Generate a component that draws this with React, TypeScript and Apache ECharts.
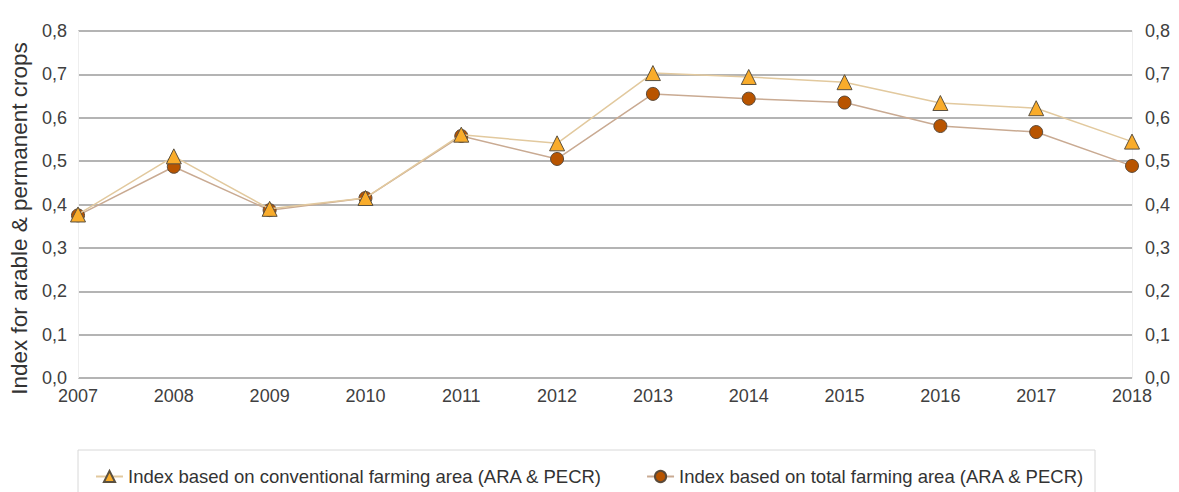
import React, { useEffect, useRef } from "react";
import * as echarts from "echarts";

const years = ["2007", "2008", "2009", "2010", "2011", "2012", "2013", "2014", "2015", "2016", "2017", "2018"];
const conventional = [0.377, 0.511, 0.39, 0.415, 0.561, 0.541, 0.703, 0.694, 0.682, 0.634, 0.622, 0.545];
const total = [0.375, 0.487, 0.387, 0.415, 0.558, 0.505, 0.655, 0.644, 0.635, 0.581, 0.567, 0.489];
const nameConv = "Index based on conventional farming area (ARA & PECR)";
const nameTotal = "Index based on total farming area (ARA & PECR)";
const axisName = "Index for arable & permanent crops";

const fmt = (v: number) => v.toFixed(1).replace(".", ",");

export default function App() {
  const ref = useRef<HTMLDivElement>(null);
  useEffect(() => {
    document.body.style.margin = "0";
    const chart = echarts.init(ref.current!, null, { renderer: "svg" });
    const font = "'Liberation Sans', Arial, sans-serif";
    const labelStyle = { color: "#404040", fontSize: 18, fontFamily: font };
    chart.setOption({
      animation: false,
      textStyle: { fontFamily: font },
      grid: { left: 78, right: 47, top: 31, bottom: 114, containLabel: false },
      xAxis: {
        type: "category",
        data: years,
        boundaryGap: false,
        axisLine: { show: false },
        axisTick: { show: false },
        axisLabel: { ...labelStyle, margin: 9 },
      },
      yAxis: [
        {
          type: "value",
          min: 0,
          max: 0.8,
          interval: 0.1,
          position: "left",
          name: axisName,
          nameLocation: "middle",
          nameGap: 47,
          nameTextStyle: { fontSize: 22.5, color: "#333", fontFamily: font, padding: [0, 0, 0, -28] },
          axisLine: { show: true, lineStyle: { color: "#eeeeee", width: 1 } },
          axisTick: { show: false },
          axisLabel: { ...labelStyle, margin: 11, formatter: fmt },
          splitLine: { lineStyle: { color: "#b4b4b4", width: 2 } },
        },
        {
          type: "value",
          min: 0,
          max: 0.8,
          interval: 0.1,
          position: "right",
          axisLine: { show: true, lineStyle: { color: "#eeeeee", width: 1 } },
          axisTick: { show: false },
          axisLabel: { ...labelStyle, margin: 13, formatter: fmt },
          splitLine: { show: false },
        },
      ],
      legend: {
        left: 90,
        top: 462,
        itemWidth: 27,
        itemHeight: 14,
        itemGap: 44,
        data: [nameConv, nameTotal],
        textStyle: { color: "#333", fontSize: 18.5, fontFamily: font },
      },
      graphic: [
        {
          type: "rect",
          shape: { x: 78, y: 450, width: 1017, height: 60 },
          style: { fill: "none", stroke: "#d8d8d8", lineWidth: 1 },
          silent: true,
        },
      ],
      series: [
        {
          name: nameTotal,
          type: "line",
          data: total,
          symbol: "circle",
          symbolSize: 13,
          z: 2,
          lineStyle: { color: "#c9aa92", width: 1.5 },
          itemStyle: { color: "#b85400", borderColor: "#5a4a3a", borderWidth: 1 },
        },
        {
          name: nameConv,
          type: "line",
          data: conventional,
          symbol: "triangle",
          symbolSize: 15,
          z: 3,
          lineStyle: { color: "#e2c99e", width: 1.5 },
          itemStyle: { color: "#f9ac2b", borderColor: "#5a5040", borderWidth: 1 },
        },
      ],
    });
    return () => chart.dispose();
  }, []);
  return <div ref={ref} style={{ position: "absolute", left: 0, top: 0, width: 1179, height: 492 }} />;
}
